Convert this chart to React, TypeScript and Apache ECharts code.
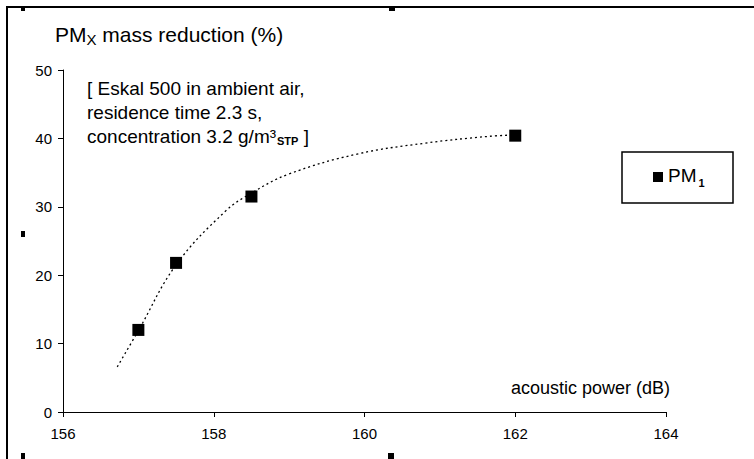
import React, { useEffect, useRef } from "react";
import * as echarts from "echarts";

const xTicks = [156, 158, 160, 162, 164];
const yTicks = [0, 10, 20, 30, 40, 50];
const pmX = [157, 157.5, 158.5, 162];
const pmY = [12.0, 21.8, 31.5, 40.4];
const fitX = [156.72, 157, 157.5, 158.15, 158.5, 159, 159.9, 160.8, 161.65, 162];
const fitY = [6.6, 11.9, 21.5, 29.3, 32.0, 34.8, 37.7, 39.3, 40.3, 40.5];
const seriesName = "PM1";
const yTitle = ["PM", "X", " mass reduction (%)"];
const xTitle = "acoustic power (dB)";
const noteLines = ["[ Eskal 500 in ambient air,", "residence time 2.3 s,", "concentration 3.2 g/m³", "STP", " ]"];

const FONT = "'Liberation Sans', Arial, sans-serif";

export default function App() {
  const ref = useRef<HTMLDivElement>(null);
  useEffect(() => {
    if (!ref.current) return;
    const chart = echarts.init(ref.current, undefined, { renderer: "svg" });
    const handles = [
      [21, 7, 4, 4],
      [21, 231, 4, 6],
      [21, 453, 4, 6],
      [389, 6, 6, 5],
      [388, 453, 6, 6],
    ];
    chart.setOption({
      animation: false,
      backgroundColor: "#fff",
      textStyle: { fontFamily: FONT },
      grid: { left: 63, right: 88, top: 70, bottom: 47 },
      xAxis: {
        type: "value",
        min: xTicks[0],
        max: xTicks[xTicks.length - 1],
        interval: xTicks[1] - xTicks[0],
        axisLine: { lineStyle: { color: "#000", width: 1 } },
        axisTick: { show: true, length: 5, lineStyle: { color: "#000" } },
        axisLabel: { color: "#000", fontSize: 15, margin: 14, fontFamily: FONT },
        splitLine: { show: false },
      },
      yAxis: {
        type: "value",
        min: yTicks[0],
        max: yTicks[yTicks.length - 1],
        interval: yTicks[1] - yTicks[0],
        axisLine: { show: true, lineStyle: { color: "#000", width: 1 } },
        axisTick: { show: true, length: 5, lineStyle: { color: "#000" } },
        axisLabel: { color: "#000", fontSize: 15, margin: 11, fontFamily: FONT },
        splitLine: { show: false },
      },
      legend: {
        data: [seriesName],
        left: 653,
        top: 166,
        padding: 0,
        icon: "rect",
        itemWidth: 10,
        itemHeight: 10,
        itemStyle: { opacity: 1, color: "#000" },
        formatter: () => "{a|PM}{b|1}",
        textStyle: {
          color: "#000",
          fontFamily: FONT,
          rich: {
            a: { fontSize: 19, color: "#000", fontFamily: FONT, lineHeight: 22, verticalAlign: "top" },
            b: { fontSize: 11, fontWeight: "bold", color: "#000", fontFamily: FONT, lineHeight: 12, verticalAlign: "bottom", padding: [8, 0, 0, 2] },
          },
        },
        z: 10,
      },
      graphic: [
        {
          type: "polyline",
          shape: { points: [[7, 459], [7, 7], [754, 7]] },
          style: { stroke: "#000", lineWidth: 2, fill: null },
          silent: true,
        },
        ...handles.map((h) => ({
          type: "rect",
          shape: { x: h[0], y: h[1], width: h[2], height: h[3] },
          style: { fill: "#000" },
          silent: true,
        })),
        {
          type: "rect",
          shape: { x: 622, y: 152, width: 111, height: 51 },
          style: { fill: "#fff", stroke: "#000", lineWidth: 1.5 },
          z: 1,
          silent: true,
        },
        {
          type: "text",
          x: 55,
          y: 24,
          style: {
            text: `{a|${yTitle[0]}}{s|${yTitle[1]}}{a|${yTitle[2]}}`,
            fill: "#000",
            font: `21px ${FONT}`,
            rich: {
              a: { fontSize: 21, fontFamily: FONT, fill: "#000", lineHeight: 23, verticalAlign: "top" },
              s: { fontSize: 15, fontFamily: FONT, fill: "#000", lineHeight: 15, verticalAlign: "bottom", padding: [10, 0, 0, 0] },
            },
          },
        },
        {
          type: "text",
          x: 87,
          y: 76,
          style: {
            text: `{a|${noteLines[0]}}\n{a|${noteLines[1]}}\n{a|${noteLines[2]}}{s|${noteLines[3]}}{a|${noteLines[4]}}`,
            fill: "#000",
            font: `19px ${FONT}`,
            rich: {
              a: { fontSize: 19, fontFamily: FONT, fill: "#000", lineHeight: 24, verticalAlign: "middle" },
              s: { fontSize: 11, fontFamily: FONT, fill: "#000", fontWeight: "bold", lineHeight: 24, verticalAlign: "bottom", padding: [0, 0, 2, 1] },
            },
          },
        },
        {
          type: "text",
          x: 670,
          y: 388,
          style: {
            text: xTitle,
            fill: "#000",
            font: `18px ${FONT}`,
            align: "right",
            verticalAlign: "middle",
          },
        },
      ],
      series: [
        {
          name: "fit",
          type: "line",
          data: fitX.map((x, i) => [x, fitY[i]]),
          showSymbol: false,
          smooth: 0.4,
          lineStyle: { color: "#000", width: 1.3, type: [2, 3] },
          z: 2,
          silent: true,
        },
        {
          name: seriesName,
          type: "scatter",
          data: pmX.map((x, i) => [x, pmY[i]]),
          symbol: "rect",
          symbolSize: 12,
          itemStyle: { color: "#000", opacity: 1 },
          z: 3,
        },
      ],
    });
    return () => chart.dispose();
  }, []);
  return (
    <div
      ref={ref}
      style={{ position: "fixed", left: 0, top: 0, width: 754, height: 459, background: "#fff" }}
    />
  );
}
